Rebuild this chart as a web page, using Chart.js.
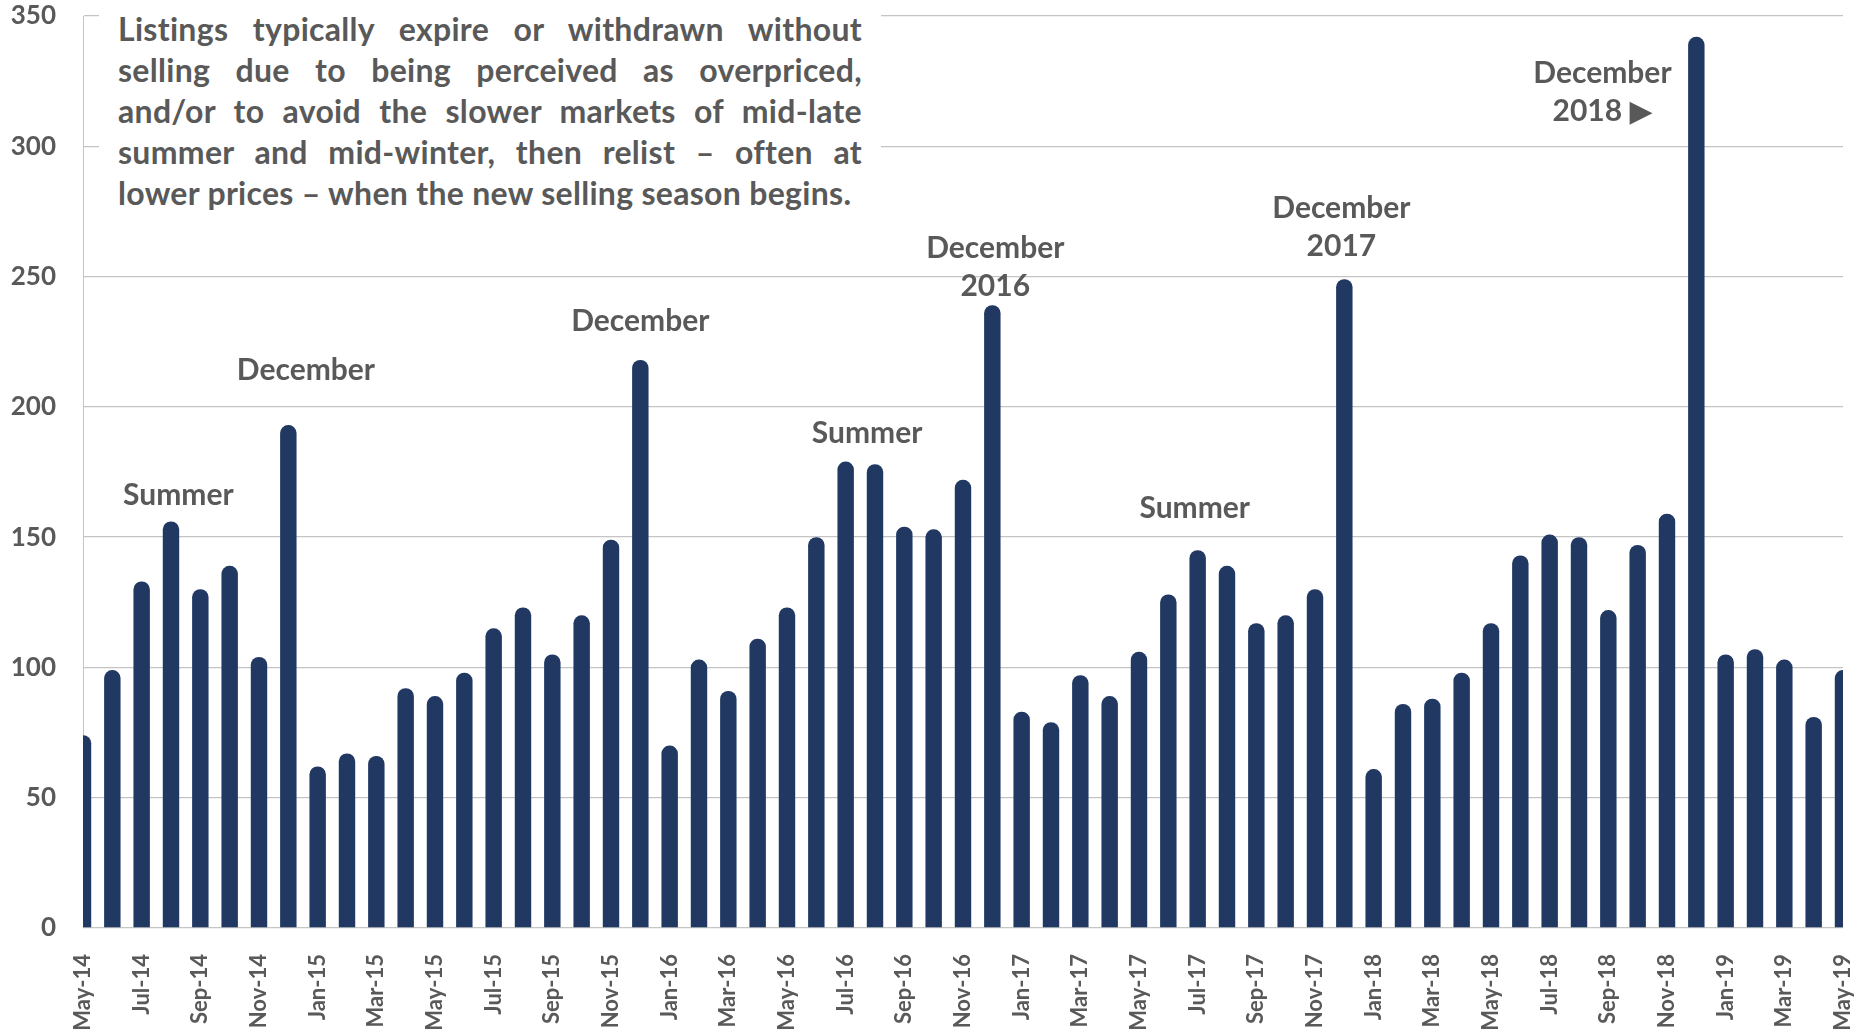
<!DOCTYPE html>
<html lang="en">
<head>
    <meta charset="UTF-8">
    <title>Expired / withdrawn listings</title>
    <script src="https://cdn.jsdelivr.net/npm/chart.js"></script>
    <style>
        body {
            margin: 0;
            background: #fff;
        }

        #wrap {
            position: relative;
            width: 1857px;
            height: 1029px;
        }

        #note {
            position: absolute;
            left: 99px;
            top: 0;
            width: 744px;
            padding: 8px 19px 12px 19px;
            background: #fff;
            color: #595959;
            font-family: Lato, "DejaVu Sans", sans-serif;
            font-weight: bold;
            font-size: 32px;
            letter-spacing: 0.3px;
            line-height: 41px;
        }

        #note div {
            text-align: justify;
            text-align-last: justify;
        }

        #note div:last-child {
            text-align-last: left;
        }
    </style>
</head>
<body>
    <div id="wrap">
        <canvas id="listingsChart" width="1857" height="1029"></canvas>
        <div id="note">
            <div>Listings typically expire or withdrawn without</div>
            <div>selling due to being perceived as overpriced,</div>
            <div>and/or to avoid the slower markets of mid-late</div>
            <div>summer and mid-winter, then relist – often at</div>
            <div>lower prices – when the new selling season begins.</div>
        </div>
    </div>

    <script>
        const months = [
            'May-14', 'Jun-14', 'Jul-14', 'Aug-14', 'Sep-14', 'Oct-14', 'Nov-14', 'Dec-14',
            'Jan-15', 'Feb-15', 'Mar-15', 'Apr-15', 'May-15', 'Jun-15', 'Jul-15', 'Aug-15', 'Sep-15', 'Oct-15', 'Nov-15', 'Dec-15',
            'Jan-16', 'Feb-16', 'Mar-16', 'Apr-16', 'May-16', 'Jun-16', 'Jul-16', 'Aug-16', 'Sep-16', 'Oct-16', 'Nov-16', 'Dec-16',
            'Jan-17', 'Feb-17', 'Mar-17', 'Apr-17', 'May-17', 'Jun-17', 'Jul-17', 'Aug-17', 'Sep-17', 'Oct-17', 'Nov-17', 'Dec-17',
            'Jan-18', 'Feb-18', 'Mar-18', 'Apr-18', 'May-18', 'Jun-18', 'Jul-18', 'Aug-18', 'Sep-18', 'Oct-18', 'Nov-18', 'Dec-18',
            'Jan-19', 'Feb-19', 'Mar-19', 'Apr-19', 'May-19'
        ];

        const listings = [
            74, 99, 133, 156, 130, 139, 104, 193,
            62, 67, 66, 92, 89, 98, 115, 123, 105, 120, 149, 218,
            70, 103, 91, 111, 123, 150, 179, 178, 154, 153, 172, 239,
            83, 79, 97, 89, 106, 128, 145, 139, 117, 120, 130, 249,
            61, 86, 88, 98, 117, 143, 151, 150, 122, 147, 159, 342,
            105, 107, 103, 81, 99
        ];

        const yTicks = [0, 50, 100, 150, 200, 250, 300, 350];

        // callouts: text lines, anchored at (category index, value)
        const callouts = [
            { lines: ['Summer'], at: 3.25, y: 166 },
            { lines: ['December'], at: 7.6, y: 214 },
            { lines: ['December'], at: 19, y: 233 },
            { lines: ['Summer'], at: 26.73, y: 190 },
            { lines: ['December', '2016'], at: 31.1, y: 261 },
            { lines: ['Summer'], at: 37.9, y: 161 },
            { lines: ['December', '2017'], at: 42.9, y: 276 },
            { lines: ['December', '2018 ▶'], at: 51.8, y: 328 }
        ];

        const grey = '#595959';
        const font = 'Lato, "DejaVu Sans", sans-serif';

        const calloutPlugin = {
            id: 'callouts',
            afterDatasetsDraw(chart) {
                const ctx = chart.ctx;
                const x = chart.scales.x;
                const y = chart.scales.y;
                ctx.save();
                ctx.fillStyle = grey;
                ctx.font = 'bold 30px ' + font;
                ctx.textAlign = 'center';
                ctx.textBaseline = 'middle';
                callouts.forEach(c => {
                    const px = x.getPixelForValue(c.at);
                    const py = y.getPixelForValue(c.y);
                    c.lines.forEach((t, i) => ctx.fillText(t, px, py + i * 38));
                });
                ctx.restore();
            }
        };

        new Chart(document.getElementById('listingsChart'), {
            type: 'bar',
            data: {
                labels: months,
                datasets: [{
                    data: listings,
                    backgroundColor: '#213862',
                    borderRadius: 8,
                    barPercentage: 0.56,
                    categoryPercentage: 1,
                    clip: 0
                }]
            },
            options: {
                responsive: false,
                animation: false,
                layout: {
                    padding: 0
                },
                plugins: {
                    legend: { display: false },
                    tooltip: { enabled: false }
                },
                scales: {
                    x: {
                        offset: false,
                        grid: { display: false },
                        border: { display: false },
                        ticks: {
                            autoSkip: false,
                            maxRotation: 90,
                            minRotation: 90,
                            padding: 18,
                            color: grey,
                            font: { family: font, weight: 'bold', size: 22 },
                            callback: (v, i) => i % 2 === 0 ? months[i] : ''
                        },
                        afterFit: s => {
                            s.height = 101;
                            s.paddingLeft = 0;
                            s.paddingRight = 14;
                        }
                    },
                    y: {
                        min: 0,
                        max: 350,
                        afterBuildTicks: s => { s.ticks = yTicks.map(v => ({ value: v })); },
                        grid: { color: '#c4c4c4', drawTicks: false, lineWidth: 1.3 },
                        border: { display: true, color: '#c4c4c4' },
                        ticks: {
                            padding: 27,
                            color: grey,
                            font: { family: font, weight: 'bold', size: 26 }
                        },
                        afterFit: s => {
                            s.width = 83;
                            s.paddingTop = 16;
                            s.paddingBottom = 0;
                        }
                    }
                }
            },
            plugins: [calloutPlugin]
        });
    </script>
</body>
</html>
